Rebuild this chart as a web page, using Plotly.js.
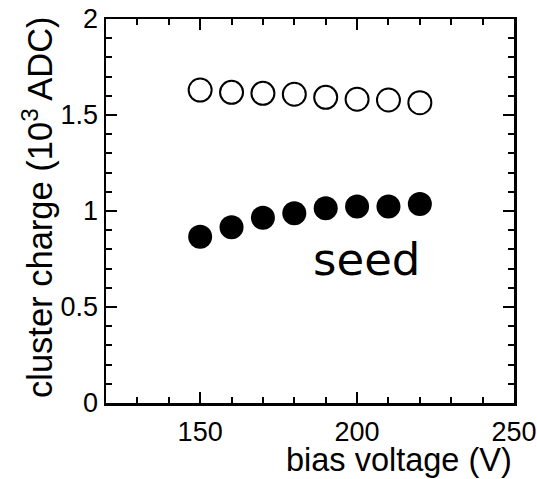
<!DOCTYPE html>
<html>
<head>
<meta charset="utf-8">
<script src="https://cdn.plot.ly/plotly-3.0.1.min.js"></script>
<style>html,body{margin:0;padding:0;background:#fff;}#chart{width:537px;height:479px;}</style>
</head>
<body>
<div id="chart"></div>
<script>
var biasVoltage = [150, 160, 170, 180, 190, 200, 210, 220];
var clusterCharge = [1.630, 1.618, 1.613, 1.608, 1.592, 1.582, 1.578, 1.564];
var seedCharge = [0.866, 0.915, 0.965, 0.988, 1.014, 1.023, 1.023, 1.036];
var xTickVals = [150, 200, 250];
var xTickText = ["150", "200", "250"];
var yTickVals = [0, 0.5, 1, 1.5, 2];
var yTickText = ["0", "0.5", "1", "1.5", "2"];

var traces = [
  {
    x: biasVoltage, y: clusterCharge, type: 'scatter', mode: 'markers',
    marker: {symbol: 'circle-open', size: 23, color: '#000', line: {width: 2, color: '#000'}},
    showlegend: false, hoverinfo: 'x+y'
  },
  {
    x: biasVoltage, y: seedCharge, type: 'scatter', mode: 'markers',
    marker: {symbol: 'circle', size: 24, color: '#000', line: {width: 0}},
    showlegend: false, hoverinfo: 'x+y'
  }
];

var axisCommon = {
  showline: true, linecolor: '#000', linewidth: 2.5, mirror: 'allticks',
  ticks: 'inside', ticklen: 11, tickwidth: 2, tickcolor: '#000',
  showgrid: false, zeroline: false,
  tickfont: {family: 'Liberation Sans, Arial, sans-serif', size: 27, color: '#000'}
};

var layout = {
  width: 537, height: 479,
  margin: {l: 106, r: 23, t: 19, b: 76},
  paper_bgcolor: '#fff', plot_bgcolor: '#fff',
  xaxis: Object.assign({}, axisCommon, {
    range: [120, 250], tickmode: 'array', tickvals: xTickVals, ticktext: xTickText,
    ticklabelstandoff: 3,
    minor: {dtick: 10, tick0: 120, ticks: 'inside', ticklen: 6, tickwidth: 2, tickcolor: '#000'}
  }),
  yaxis: Object.assign({}, axisCommon, {
    range: [0, 2], tickmode: 'array', tickvals: yTickVals, ticktext: yTickText,
    minor: {dtick: 0.1, tick0: 0, ticks: 'inside', ticklen: 6, tickwidth: 2, tickcolor: '#000'}
  }),
  annotations: [
    {text: 'bias voltage (V)', xref: 'paper', yref: 'paper', x: 1, y: 0,
     xanchor: 'right', yanchor: 'middle', yshift: -57, showarrow: false,
     font: {family: 'Liberation Sans, Arial, sans-serif', size: 32.5, color: '#000'}},
    {text: 'cluster charge (10<sup>3</sup> ADC)', xref: 'paper', yref: 'paper', x: 0, y: 1,
     xanchor: 'center', yanchor: 'top', xshift: -69, yshift: 5, textangle: -90, showarrow: false,
     font: {family: 'Liberation Sans, Arial, sans-serif', size: 34.5, color: '#000'}},
    {text: 'seed', xref: 'x', yref: 'y', x: 203, y: 0.75, showarrow: false,
     xanchor: 'center', yanchor: 'middle',
     font: {family: 'DejaVu Sans, sans-serif', size: 45, color: '#000'}}
  ]
};

Plotly.newPlot('chart', traces, layout, {displayModeBar: false, staticPlot: true});
</script>
</body>
</html>
